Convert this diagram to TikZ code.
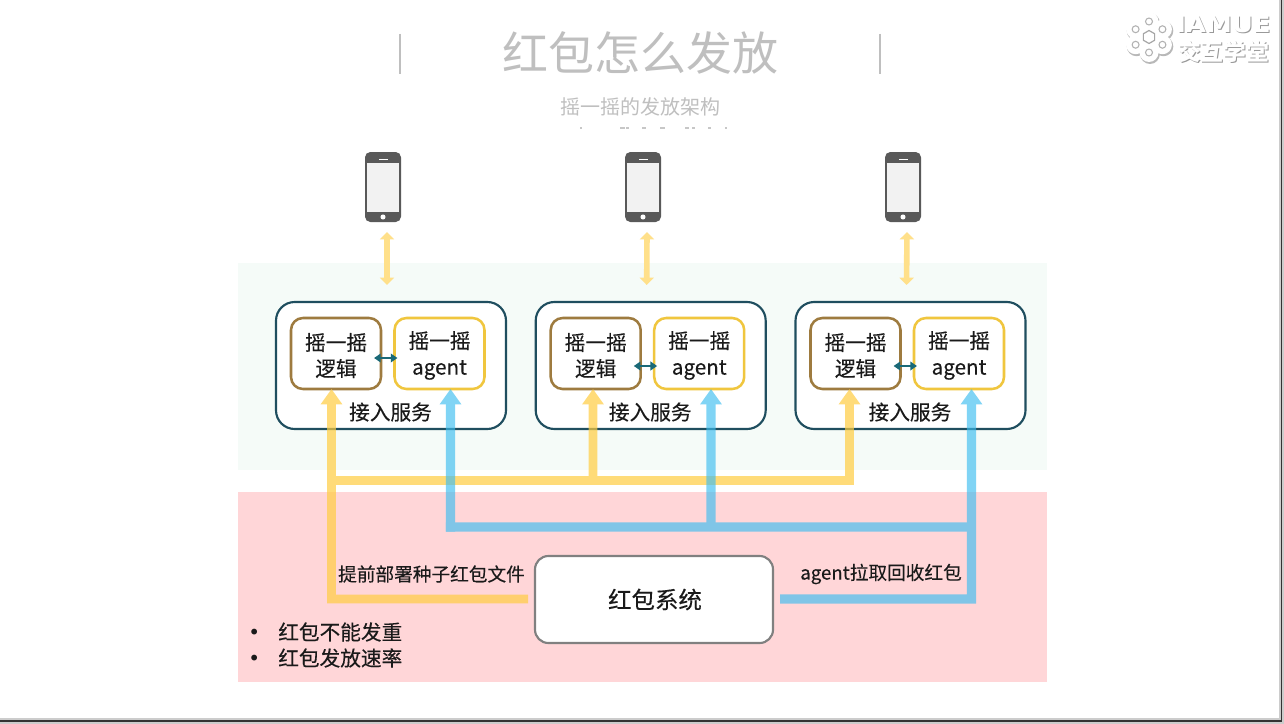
\documentclass[tikz,border=0pt]{standalone}
\usepackage{fontspec}
\setmainfont{Noto Sans CJK SC}
\newfontfamily\logofont{DejaVu Sans}
\newfontfamily\bodyfont[FakeBold=0.25]{Noto Sans CJK SC}
\usetikzlibrary{arrows.meta,calc}
\definecolor{bgGreen}{HTML}{F5FBF8}
\definecolor{bgPink}{HTML}{FFD6D8}
\definecolor{svcLine}{HTML}{1F4E5F}
\definecolor{logicLine}{HTML}{9E7B3F}
\definecolor{agentLine}{HTML}{F0C63E}
\definecolor{flowY}{HTML}{FFCD41}
\definecolor{flowB}{HTML}{3CBDF0}
\definecolor{softY}{HTML}{FFE08A}
\definecolor{titleGrey}{HTML}{BFBFBF}
\definecolor{phoneDark}{HTML}{595959}
\definecolor{ink}{HTML}{1A1A1A}
\tikzset{
  x=0.75pt,y=-0.75pt,
  sized/.style 2 args={minimum width=#1*0.75pt,minimum height=#2*0.75pt,inner sep=0pt,outer sep=0pt},
  band/.style={fill=#1,draw=none},
  svcbox/.style={sized={230}{127},draw=svcLine,line width=1.6pt,rounded corners=14pt,fill=white},
  logicbox/.style={sized={90}{71},draw=logicLine,line width=1.9pt,rounded corners=9pt,fill=white},
  agentbox/.style={sized={90}{71},draw=agentLine,line width=1.9pt,rounded corners=9pt,fill=white},
  phonebody/.style={sized={36}{70},fill=phoneDark,rounded corners=4pt},
  lbl/.style={font=\bodyfont\fontsize{15.5pt}{20pt}\selectfont,text=ink,inner sep=0pt,align=center},
  smalllbl/.style={font=\bodyfont\fontsize{14pt}{18pt}\selectfont,text=ink,inner sep=0pt},
  flowy/.style={draw=flowY,line width=6.6pt},
  flowb/.style={draw=flowB,line width=6.9pt},
  headtip/.style={-{Triangle[length=11.5pt,width=15.5pt]}},
  updown/.style={draw=softY,line width=4.2pt,{Triangle[length=5.5pt,width=10.5pt]}-{Triangle[length=5.5pt,width=10.5pt]}},
  linkarrow/.style={draw=svcLine!85!cyan,line width=1.7pt,{Triangle[length=5pt,width=6.5pt]}-{Triangle[length=5pt,width=6.5pt]},shorten <=-5.2pt,shorten >=-2.2pt},
  sep/.style={draw=titleGrey,line width=1.5pt},
}
\newcommand{\phoneicon}[2]{%
  \node[phonebody] (#1) at (#2,187) {};
  \fill[fill=black!5] ($(#1.center)+(-16,-24)$) rectangle ($(#1.center)+(16,24.5)$);
  \fill[white] ($(#1.center)+(0,30)$) circle (1.9pt);
  \fill[white] ($(#1.center)+(-4.5,-28.5)$) rectangle ($(#1.center)+(4.5,-27)$);
}
\newcommand{\svcgroup}[3]{% suffix, x offset, link arrow y offset
  \node[svcbox] (svc#1) at (391+#2,365.5) {};
  \node[logicbox] (logic#1) at (336+#2,353.5) {};
  \node[agentbox] (agent#1) at (439.5+#2,353.5) {};
  \node[lbl] (logicT#1) at (336+#2,355.5) {摇一摇\\[-0.5pt]逻辑};
  \node[lbl] (agentT#1) at (439.5+#2,355.5) {摇一摇\\[-0.5pt]agent};
  \node[lbl] (svcT#1) at (390.5+#2,412) {接入服务};
  \draw[linkarrow] ($(logic#1.east)+(0,#3)$) -- ($(agent#1.west)+(0,#3)$);
}
\begin{document}
\begin{tikzpicture}
\useasboundingbox (0,0) rectangle (1284,724);
\fill[white] (0,0) rectangle (1284,724);
% slide edge
\fill[black!20] (1279,0) rectangle (1284,724);
\fill[black!20] (0,718) rectangle (1284,724);
\fill[black!80] (1280.5,0) rectangle (1282,721.5);
\fill[black!80] (0,720) rectangle (1282,721.5);

% bands
\fill[band=bgGreen] (238,263) rectangle (1047,470);
\fill[band=bgPink] (238,492) rectangle (1047,682);

% title
\draw[sep] (400,34) -- (400,74);
\draw[sep] (880,34) -- (880,74);
\node[font=\fontsize{34.5pt}{40pt}\selectfont,text=titleGrey,inner sep=0pt] (title) at (640,53) {红包怎么发放};
\node[font=\fontsize{15pt}{18pt}\selectfont,text=titleGrey,inner sep=0pt] (subtitle) at (640,107) {摇一摇的发放架构};
% clipped remains of a hidden line
\foreach \sx/\sw in {580/2,620/5,626/3,642/4,660/5,685/4,692/3,708/3,725/2}
  \fill[black!22] (\sx,127) rectangle (\sx+\sw,129);

% phones
\phoneicon{phoneA}{383}
\phoneicon{phoneB}{643}
\phoneicon{phoneC}{903}

% services
\svcgroup{A}{0}{4.5}
\svcgroup{B}{259.7}{12.5}
\svcgroup{C}{519.5}{12.5}

% red packet system
\node[sized={238}{87},draw=black!50,line width=1.6pt,rounded corners=10pt,fill=white,
      font=\bodyfont\fontsize{17.6pt}{22pt}\selectfont,text=ink] (system) at (654,599.5) {\raisebox{-1pt}{\hspace{1.5pt}红包系统}};

% phone <-> service
\draw[updown] ($(phoneA.south)+(4,10)$) -- ($(svcA.north)+(-4,-17)$);
\draw[updown] ($(phoneB.south)+(4,10)$) -- ($(svcB.north)+(-4,-17)$);
\draw[updown] ($(phoneC.south)+(4,10)$) -- ($(svcC.north)+(-4,-17)$);

% free junctions
\coordinate (yCornerS) at (331.5,599);
\coordinate (yJoinA) at (331.5,480.5);
\coordinate (yJoinB) at (593,480.5);
\coordinate (yJoinC) at (849.5,480.5);
\coordinate (bCornerS) at (971.5,599);
\coordinate (bJoinC) at (971.5,527);
\coordinate (bJoinB) at (711,527);
\coordinate (bJoinA) at (450.5,527);

% yellow flow
\begin{scope}[transparency group,opacity=0.7]
  \draw[flowy,headtip] ($(system.west)+(-7,-0.5)$) -- (yCornerS) -- (yJoinA |- logicA.south);
  \draw[flowy,line cap=butt] ([xshift=-3.3pt]yJoinA) -- ([xshift=3.3pt]yJoinC) ;
  \draw[flowy,headtip] (yJoinB) -- (yJoinB |- logicB.south);
  \draw[flowy,headtip] ([yshift=-3.3pt]yJoinC) -- (yJoinC |- logicC.south);
\end{scope}

% blue flow
\begin{scope}[transparency group,opacity=0.65]
  \draw[flowb,headtip] ($(system.east)+(7,-0.5)$) -- (bCornerS) -- (bCornerS |- agentC.south);
  \draw[flowb,headtip] ([yshift=-3.45pt]bJoinA) -- (bJoinA |- agentA.south);
  \draw[flowb] ([xshift=-3.45pt]bJoinA) -- (bJoinC);
  \draw[flowb,headtip] (bJoinB) -- (bJoinB |- agentB.south);
\end{scope}

% labels
\node[smalllbl] (labelSeed) at (431.5,574) {提前部署种子红包文件};
\node[smalllbl] (labelPull) at (881,574) {agent拉取回收红包};
\node[lbl,anchor=west] (noteA) at (248,632) {\makebox[22.5pt][l]{\logofont\fontsize{15pt}{15pt}\selectfont•}红包不能发重};
\node[lbl,anchor=west] (noteB) at (248,658) {\makebox[22.5pt][l]{\logofont\fontsize{15pt}{15pt}\selectfont•}红包发放速率};

% logo
\begin{scope}[shift={(1149,37)}]
  \foreach \a in {30,90,150,210,270,330}
    \fill[black!28] (\a:15.5)++(1,1.6) circle (7.4pt);
  \foreach \a in {30,90,150,210,270,330}
    \fill[white] (\a:15.5) circle (7.1pt);
  \fill[white] (0,0) circle (9pt);
  \foreach \a in {30,90,150,210,270,330}
    \draw[black!30,line width=0.8pt,fill=white] (\a:15.5) circle (2.6pt);
  \draw[black!35,line width=0.9pt,fill=white] (30:6.5) -- (90:6.5) -- (150:6.5) -- (210:6.5) -- (270:6.5) -- (330:6.5) -- cycle;
\end{scope}
\node[font=\logofont\bfseries\fontsize{16.5pt}{20pt}\selectfont,text=black!40,inner sep=0pt] (logoShadeA) at (1224.5,25.5) {\scalebox{1.18}[1.02]{IAMUE}};
\node[font=\logofont\bfseries\fontsize{16.5pt}{20pt}\selectfont,text=white,inner sep=0pt] (logoA) at (1223.5,24.5) {\scalebox{1.18}[1.02]{IAMUE}};
\node[font=\bfseries\fontsize{17pt}{20pt}\selectfont,text=black!40,inner sep=0pt] (logoShadeB) at (1224.5,53) {交互学堂};
\node[font=\bfseries\fontsize{17pt}{20pt}\selectfont,text=white,inner sep=0pt] (logoB) at (1223.5,52) {交互学堂};
\end{tikzpicture}
\end{document}
